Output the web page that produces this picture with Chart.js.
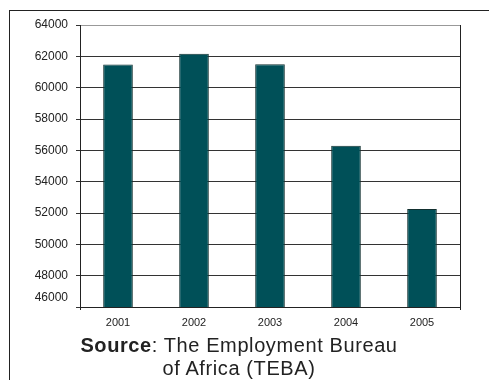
<!DOCTYPE html>
<html>
<head>
<meta charset="utf-8">
<script src="https://cdn.jsdelivr.net/npm/chart.js@4"></script>
<style>
  body { margin: 0; background: #fff; }
  #wrap { position: relative; width: 489px; height: 380px; overflow: hidden; }
  #frame { position: absolute; left: 9px; top: 10px; width: 490px; height: 380px;
           border-left: 1px solid #222; border-top: 1px solid #222; }
  #chart { position: absolute; left: 0; top: 0; }
  #source { position: absolute; left: 0; top: 334px; width: 478px; text-align: center;
            font: 20px "Liberation Sans", Arial, sans-serif; line-height: 23px;
            letter-spacing: 0.6px; color: #222; }
</style>
</head>
<body>
<div id="wrap">
  <div id="frame"></div>
  <canvas id="chart" width="489" height="380"></canvas>
  <div id="source"><b>Source</b>: The Employment Bureau<br>of Africa (TEBA)</div>
</div>
<script>
const years = ['2001', '2002', '2003', '2004', '2005'];
const workers = [61480, 62170, 61500, 56300, 52260];
const yMin = 46000;
const yMax = 64000;
const yStep = 2000;

const FONT = '"Liberation Sans", Arial, sans-serif';

// frame bits the axes don't draw: right border, little drop below the axis, shifted bottom label
const extras = {
    id: 'extras',
    afterDraw(chart) {
        const { ctx, chartArea } = chart;
        const y = chart.scales.y;
        ctx.save();
        ctx.strokeStyle = '#222';
        ctx.lineWidth = 1;
        ctx.beginPath();
        ctx.moveTo(Math.round(chartArea.right) + 0.5, chartArea.top);
        ctx.lineTo(Math.round(chartArea.right) + 0.5, chartArea.bottom + 3);
        ctx.moveTo(Math.round(chartArea.left) + 0.5, chartArea.bottom);
        ctx.lineTo(Math.round(chartArea.left) + 0.5, chartArea.bottom + 3);
        ctx.stroke();
        ctx.fillStyle = '#222';
        ctx.font = '12px ' + FONT;
        ctx.textAlign = 'right';
        ctx.textBaseline = 'middle';
        ctx.fillText(String(yMin), chartArea.left - 12, y.getPixelForValue(yMin) - 9);
        ctx.restore();
    }
};

new Chart(document.getElementById('chart'), {
    type: 'bar',
    data: {
        labels: years,
        datasets: [{
            data: workers,
            backgroundColor: '#005058',
            borderColor: '#123030',
            borderWidth: 1,
            categoryPercentage: 1,
            barPercentage: 0.39
        }]
    },
    options: {
        responsive: false,
        devicePixelRatio: 1,
        animation: false,
        layout: { padding: { left: 0, right: 29, top: 25, bottom: 43 } },
        plugins: { legend: { display: false }, tooltip: { enabled: false } },
        scales: {
            x: {
                afterFit: s => { s.height = 30; },
                grid: { display: false },
                border: { display: true, color: '#222', width: 1 },
                ticks: { color: '#222', padding: 1, font: { family: FONT, size: 11 } }
            },
            y: {
                min: yMin,
                max: yMax,
                afterFit: s => { s.width = 80; },
                grid: {
                    color: c => (c.tick && c.tick.value === yMax) ? '#999' : '#333',
                    tickColor: '#333',
                    tickLength: 4
                },
                border: { display: true, color: '#222', width: 1 },
                ticks: {
                    stepSize: yStep,
                    color: '#222',
                    padding: 8,
                    font: { family: FONT, size: 12 },
                    callback: v => v === yMin ? '' : String(v)
                }
            }
        }
    },
    plugins: [extras]
});
</script>
</body>
</html>
